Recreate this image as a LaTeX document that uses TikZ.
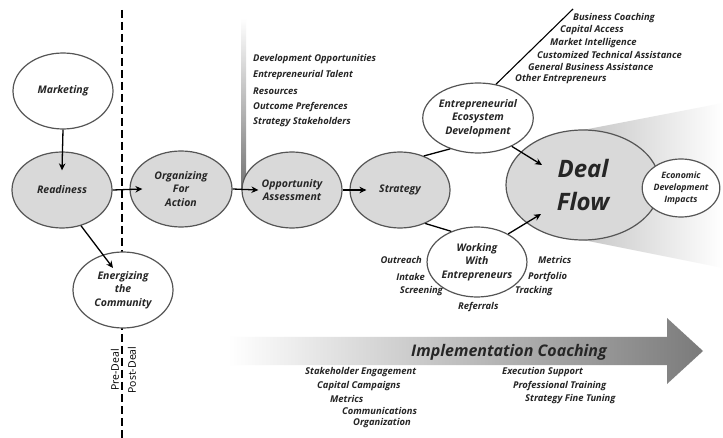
\documentclass[tikz,border=0pt]{standalone}
\usepackage{fontspec}
\setmainfont{Open Sans}
\usetikzlibrary{shapes.geometric,arrows.meta,calc}
\newcommand\bublbl{\fontsize{10.5}{13.5}\selectfont\bfseries\itshape}
\newcommand\listlbl{\fontsize{9.4}{10}\selectfont\bfseries\itshape}
\definecolor{bubgray}{HTML}{D9D9D9}
\definecolor{bubline}{HTML}{555555}
\begin{document}
\begin{tikzpicture}[x=1pt,y=-1pt,
  bub/.style={ellipse, draw=bubline, line width=1.2pt, inner sep=0pt, align=center, font=\bublbl, text=black!85},
  wbub/.style={bub, fill=white},
  gbub/.style={bub, fill=bubgray},
  arr/.style={line width=1.3pt, -{Stealth[length=7pt,width=6.5pt]}},
  conn/.style={line width=1.3pt},
  li/.style={font=\listlbl, text=black!85, anchor=west, inner sep=0pt},
  lir/.style={font=\listlbl, text=black!85, anchor=east, inner sep=0pt}]
\useasboundingbox (0,0) rectangle (723,438);
\fill[white] (0,0) rectangle (723,438);

% shaded funnel behind deal flow
\shade[left color=black!22, right color=white] (583,130) -- (723,103) -- (723,268) -- (583,240) -- cycle;
% vertical gradient bar
\shade[top color=white, bottom color=black!55] (241,18) rectangle (246,190);

% dashed divider
\draw[line width=1.4pt, dash pattern=on 8pt off 4pt] (122,10) -- (122,438);
\node[rotate=90, font=\fontsize{10.5}{11}\selectfont, inner sep=0pt] (pre) at (115,370) {Pre-Deal};
\node[rotate=90, font=\fontsize{10.5}{11}\selectfont, inner sep=0pt] (post) at (132,370) {Post-Deal};

% implementation coaching arrow
\shade[left color=white, right color=black!52] (228,337) -- (667,337) -- (667,318) -- (703,351) -- (667,384) -- (667,365) -- (228,365) -- cycle;
\node[font=\fontsize{16}{18}\selectfont\bfseries\itshape, text=black!85] (impl) at (509,352) {Implementation Coaching};

% bubbles
\node[wbub, minimum width=100pt, minimum height=76pt] (mkt) at (63,91) {Marketing};
\node[gbub, minimum width=100pt, minimum height=76pt] (read) at (62,190) {Readiness};
\node[gbub, minimum width=102pt, minimum height=76pt] (org) at (181,189) {Organizing\\For\\Action};
\node[wbub, minimum width=100pt, minimum height=76pt] (energ) at (123,290) {Energizing\\the\\Community};
\node[gbub, minimum width=100pt, minimum height=76pt] (opp) at (292,190) {Opportunity\\Assessment};
\node[gbub, minimum width=100pt, minimum height=76pt] (strat) at (400,190) {Strategy};
\node[wbub, minimum width=100pt, minimum height=70pt] (eco) at (478,118) {Entrepreneurial\\Ecosystem\\Development};
\node[wbub, minimum width=98pt, minimum height=70pt] (work) at (477,262) {Working\\With\\Entrepreneurs};
\node[gbub, minimum width=154pt, minimum height=110pt, font=\fontsize{24}{33}\selectfont\bfseries\itshape] (deal) at (583,185) {Deal\\Flow};
\node[wbub, minimum width=64pt, minimum height=58pt, font=\fontsize{8.8}{12}\selectfont\bfseries\itshape] (econ) at (681,188) {Economic\\Development\\Impacts};

% arrows
\draw[arr] (mkt.south) -- ([yshift=-19pt]read.north);
\draw[arr] (read.east) -- ([xshift=13pt]org.west);
\draw[arr] (read.-62) -- ($(energ.center)+(-10,-22)$);
\draw[arr] (org.east) -- ([xshift=17pt]opp.west);
\draw[arr] (opp.east) -- ([xshift=17pt]strat.west);
\draw[conn] (strat.55) -- (eco.228);
\draw[conn] (strat.-53) -- (work.130);
\draw[arr] (eco.-40) -- ($(deal.center)+(-41,-20)$);
\draw[arr] (work.42) -- ($(deal.center)+(-42,29)$);

% ecosystem branch
\coordinate (ecotop) at (573,9);
\draw[line width=1.1pt] (eco.62) -- (ecotop);
\node[li] (bc) at (573,18) {Business Coaching};
\node[li] (ca) at (560,30.5) {Capital Access};
\node[li] (mi) at (550,43) {Market Intelligence};
\node[li] (cta) at (537,55) {Customized Technical Assistance};
\node[li] (gba) at (528,67) {General Business Assistance};
\node[li] (oe) at (515,79) {Other Entrepreneurs};

% opportunity list
\node[li] (dop) at (253,59) {Development Opportunities};
\node[li] (et) at (253,75) {Entrepreneurial Talent};
\node[li] (res) at (253,91) {Resources};
\node[li] (op) at (253,107) {Outcome Preferences};
\node[li] (ss) at (253,122) {Strategy Stakeholders};

% working labels
\node[lir] (outr) at (422,260) {Outreach};
\node[lir] (intk) at (425,277) {Intake};
\node[lir] (scr) at (443,291) {Screening};
\node[li] (ref) at (458,307) {Referrals};
\node[li] (met) at (538,260) {Metrics};
\node[li] (port) at (528,277) {Portfolio};
\node[li] (trk) at (515,291) {Tracking};

% implementation lists
\node[li] (se) at (305,372) {Stakeholder Engagement};
\node[li] (cc) at (317,386) {Capital Campaigns};
\node[li] (me2) at (330,399) {Metrics};
\node[li] (com) at (342,410.5) {Communications};
\node[li] (orgz) at (353,423) {Organization};
\node[li] (es) at (502,372) {Execution Support};
\node[li] (pt) at (513,386) {Professional Training};
\node[li] (sft) at (525,399) {Strategy Fine Tuning};
\end{tikzpicture}
\end{document}
